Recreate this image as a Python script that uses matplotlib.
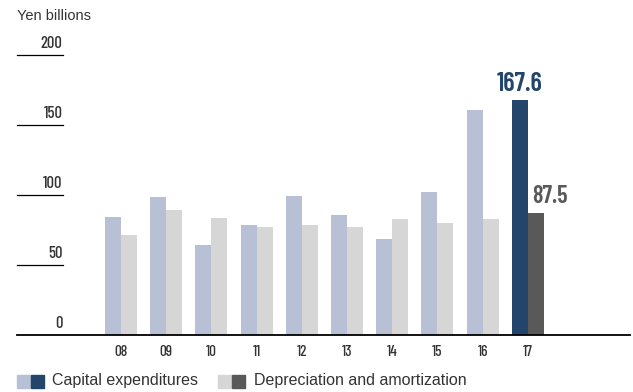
import matplotlib
matplotlib.use("Agg")
import matplotlib.pyplot as plt
from matplotlib.patches import Rectangle
from matplotlib import font_manager as fm

years = ["08", "09", "10", "11", "12", "13", "14", "15", "16", "17"]
capex = [84.3, 98.8, 64.3, 78.6, 99.3, 85.7, 68.6, 102.1, 160.7, 167.6]
depr = [71.4, 89.3, 83.6, 77.1, 78.6, 77.1, 82.9, 80.0, 82.9, 87.5]
yticks = [0, 50, 100, 150, 200]
unit_label = "Yen billions"
legend_labels = ["Capital expenditures", "Depreciation and amortization"]
capex_label = "167.6"
depr_label = "87.5"

names = {f.name for f in fm.fontManager.ttflist}
narrow = "DejaVu Sans"
for cand in ["Barlow Condensed", "Archivo Narrow", "Asap Condensed", "Cabin Condensed"]:
    if cand in names:
        narrow = cand
        break
regular = "Liberation Sans" if "Liberation Sans" in names else "DejaVu Sans"

c_cap_light = "#B7C0D4"
c_dep_light = "#D6D6D6"
c_cap_dark = "#24456B"
c_dep_dark = "#595959"
txt = "#333333"

W, H = 633, 392
fig = plt.figure(figsize=(W / 100, H / 100), dpi=100)
left_px, right_px, base_px, top_px = 17, 630, 335, 55
ax = fig.add_axes([left_px / W, (H - base_px) / H, (right_px - left_px) / W, (base_px - top_px) / H])
spacing = 45.2
c0 = 121
ax.set_xlim((left_px - c0) / spacing, (right_px - c0) / spacing)
ax.set_ylim(0, 200)
ax.axis("off")

bw = 16 / spacing
n = len(years)
for i in range(n):
    last = i == n - 1
    ax.bar(i - bw / 2, capex[i], width=bw, color=c_cap_dark if last else c_cap_light, zorder=2)
    ax.bar(i + bw / 2, depr[i], width=bw, color=c_dep_dark if last else c_dep_light, zorder=2)
    ax.text(i, -7.5, years[i], ha="center", va="top", fontsize=11, family=narrow,
            fontweight="medium", color=txt)

ax.text(n - 1 - bw / 2, capex[-1] + 3, capex_label, ha="center", va="bottom", fontsize=19,
        family=narrow, fontweight="semibold", color=c_cap_dark)
ax.text(n - 1 + bw / 2 - 0.08, depr[-1] + 3.5, depr_label, ha="left", va="bottom", fontsize=17.5,
        family=narrow, fontweight="semibold", color=c_dep_dark)

tr = ax.get_yaxis_transform()
tick_end = (63 - left_px) / (right_px - left_px)
for v in yticks:
    if v == 0:
        ax.plot([0, 1], [0, 0], transform=tr, color="black", lw=1.3, zorder=3, clip_on=False)
    else:
        ax.plot([0, tick_end], [v, v], transform=tr, color="black", lw=0.9, clip_on=False)
    ax.text(tick_end - 0.001, v + 2.5, str(v), transform=tr, ha="right", va="bottom",
            fontsize=12, family=narrow, fontweight="medium", color=txt)

fig.text(17 / W, 1 - 16 / H, unit_label, ha="left", va="center", fontsize=10.5, family=regular, color=txt)

# legend
ly = 381
sq = 13
def patch(x, color):
    fig.patches.append(Rectangle((x / W, (H - ly - sq / 2) / H), sq / W, sq / H,
                                 transform=fig.transFigure, color=color))
patch(17, c_cap_light); patch(31, c_cap_dark)
fig.text(52 / W, 1 - ly / H, legend_labels[0], ha="left", va="center", fontsize=11.5, family=regular, color=txt)
patch(218, c_dep_light); patch(232, c_dep_dark)
fig.text(254 / W, 1 - ly / H, legend_labels[1], ha="left", va="center", fontsize=11.5, family=regular, color=txt)

fig.savefig("out.png", dpi=100)
